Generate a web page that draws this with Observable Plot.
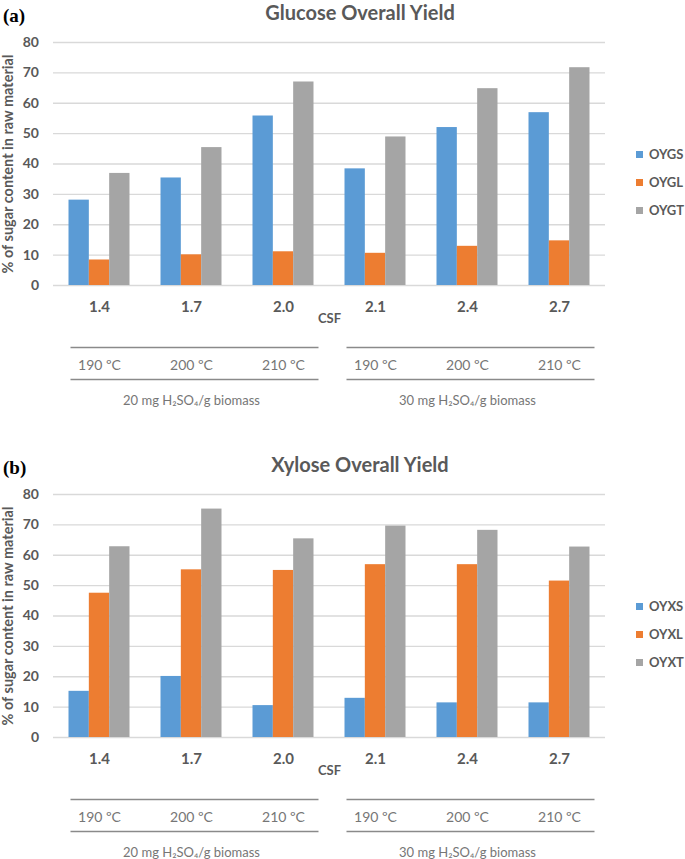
<!DOCTYPE html>
<html>
<head>
<meta charset="utf-8">
<script src="https://cdn.jsdelivr.net/npm/d3@7"></script>
<script src="https://cdn.jsdelivr.net/npm/@observablehq/plot@0.6"></script>
<style>
  body { margin: 0; background: #fff; }
  #wrap { position: relative; width: 685px; height: 859px; overflow: hidden; font-family: Lato, sans-serif; }
  .panel { position: absolute; left: 0; width: 685px; height: 407px; }
  .panel svg { position: absolute; left: 0; top: 0; }
  .title { position: absolute; left: 210px; width: 300px; top: 0; line-height: 22px; text-align: center;
           font: bold 20px Lato, sans-serif; color: #595959; }
  .tag { position: absolute; left: 3px; top: 5px; line-height: 20px; font: bold 19px "Liberation Serif", "Times New Roman", serif; color: #000; }
  .legend { position: absolute; left: 636px; top: 146px; }
  .legend div { height: 28px; line-height: 20px; font: bold 13px Lato, sans-serif; color: #595959; white-space: nowrap; }
  .legend span { display: inline-block; width: 7px; height: 7px; margin-right: 6px; vertical-align: 1px; }
</style>
</head>
<body>
<div id="wrap"></div>
<script>
// ---- data ----
const csf = ["1.4", "1.7", "2.0", "2.1", "2.4", "2.7"];
const temps = ["190 ºC", "200 ºC", "210 ºC", "190 ºC", "200 ºC", "210 ºC"];
const acidLabels = ["20 mg H₂SO₄/g biomass", "30 mg H₂SO₄/g biomass"];
const acidMiddleCsf = ["1.7", "2.4"];
const yTicks = [0, 10, 20, 30, 40, 50, 60, 70, 80];
const yLabel = "% of sugar content in raw material";
const xLabel = "CSF";
const colors = ["#5B9BD5", "#ED7D31", "#A5A5A5"];

const glucoseTitle = "Glucose Overall Yield";
const glucoseSeries = ["OYGS", "OYGL", "OYGT"];
const oygs = [28.1, 35.4, 55.8, 38.4, 52.0, 56.9];
const oygl = [8.4, 10.1, 11.1, 10.6, 12.9, 14.7];
const oygt = [36.9, 45.4, 67.0, 48.9, 64.8, 71.7];

const xyloseTitle = "Xylose Overall Yield";
const xyloseSeries = ["OYXS", "OYXL", "OYXT"];
const oyxs = [15.2, 20.1, 10.5, 12.9, 11.4, 11.4];
const oyxl = [47.5, 55.2, 55.0, 56.9, 56.9, 51.5];
const oyxt = [62.8, 75.2, 65.4, 69.6, 68.2, 62.7];

// ---- drawing ----
function panel(top, tag, title, series, values) {
  const wrap = document.getElementById("wrap");
  const div = document.createElement("div");
  div.className = "panel";
  div.style.top = top + "px";
  wrap.appendChild(div);

  const data = csf.flatMap((c, i) => series.map((s, j) => ({csf: c, series: s, value: values[j][i]})));

  const W = 685, H = 407, mL = 53, mR = 80, mT = 42, y0 = 285;
  const padIn = 0.337, padOut = padIn / 2;
  const step = (W - mL - mR) / csf.length;
  const halfGap = step * padIn / 2;

  const chart = Plot.plot({
    width: W, height: H,
    marginLeft: mL, marginRight: mR, marginTop: mT, marginBottom: H - y0,
    style: {fontFamily: "Lato, sans-serif", fontSize: "13px", color: "#595959", background: "transparent", overflow: "visible"},
    fx: {domain: csf, paddingInner: padIn, paddingOuter: padOut, axis: null, label: null, round: false},
    x: {domain: series, padding: 0, axis: null, round: false},
    y: {domain: [0, 80], axis: null},
    color: {domain: series, range: colors},
    marks: [
      Plot.ruleY(yTicks, {y: d => d, stroke: "#D9D9D9", strokeWidth: 1.3, insetLeft: -halfGap, insetRight: -halfGap}),
      Plot.barY(data, {fx: "csf", x: "series", y: "value", fill: "series"}),
      // y tick labels (first facet only)
      Plot.text(yTicks, {fx: () => csf[0], y: d => d, text: d => String(d), frameAnchor: "left", textAnchor: "end",
        dx: -(halfGap + 14.5), fontWeight: "bold", fontSize: 14, fill: "#595959"}),
      // y axis label
      Plot.text([yLabel], {fx: () => csf[0], text: d => d, frameAnchor: "left", rotate: -90, textAnchor: "middle",
        lineAnchor: "middle", dx: -(halfGap + 45), fontWeight: "bold", fontSize: 14.5, fill: "#595959"}),
      // CSF tick labels
      Plot.text(csf, {fx: d => d, text: d => d, frameAnchor: "bottom", lineAnchor: "middle", dy: 22,
        fontWeight: "bold", fontSize: 15, fill: "#595959"}),
      // axis title
      Plot.text([xLabel], {fx: () => csf[2], text: d => d, frameAnchor: "bottom-right", textAnchor: "middle",
        lineAnchor: "middle", dx: halfGap, dy: 33, fontWeight: "bold", fontSize: 13, fill: "#595959"}),
      // group lines
      Plot.ruleY(acidMiddleCsf, {fx: d => d, y: () => 0, dy: 62, stroke: "#8a8a8a", strokeWidth: 1.5,
        insetLeft: -(step - 2), insetRight: -(step + 5)}),
      Plot.ruleY(acidMiddleCsf, {fx: d => d, y: () => 0, dy: 94, stroke: "#8a8a8a", strokeWidth: 1.5,
        insetLeft: -(step - 2), insetRight: -(step + 5)}),
      // temperature labels
      Plot.text(temps, {fx: (d, i) => csf[i], text: d => d, frameAnchor: "bottom", lineAnchor: "middle", dy: 80,
        fontSize: 14, fill: "#767676"}),
      // acid labels
      Plot.text(acidLabels, {fx: (d, i) => acidMiddleCsf[i], text: d => d, frameAnchor: "bottom", lineAnchor: "middle", dy: 115,
        fontSize: 13, fill: "#767676"})
    ]
  });
  div.appendChild(chart);

  const t = document.createElement("div");
  t.className = "title"; t.textContent = title; div.appendChild(t);
  const g = document.createElement("div");
  g.className = "tag"; g.textContent = tag; div.appendChild(g);

  const leg = document.createElement("div");
  leg.className = "legend";
  series.forEach((s, i) => {
    const row = document.createElement("div");
    const sw = document.createElement("span");
    sw.style.background = colors[i];
    row.appendChild(sw);
    row.appendChild(document.createTextNode(s));
    leg.appendChild(row);
  });
  div.appendChild(leg);
}

panel(0, "(a)", glucoseTitle, glucoseSeries, [oygs, oygl, oygt]);
panel(452, "(b)", xyloseTitle, xyloseSeries, [oyxs, oyxl, oyxt]);
</script>
</body>
</html>
